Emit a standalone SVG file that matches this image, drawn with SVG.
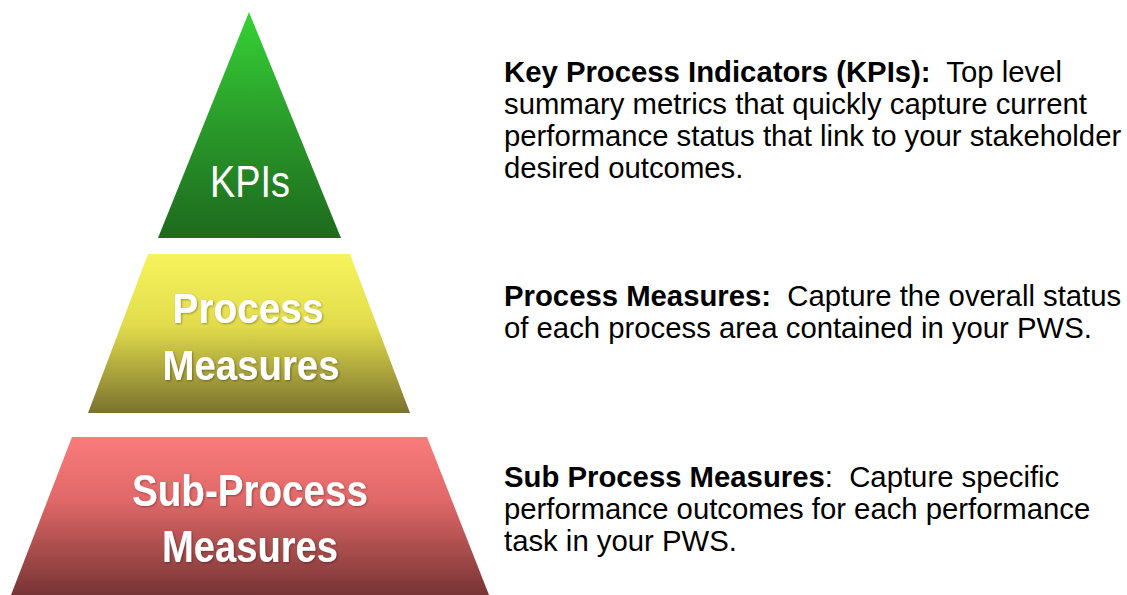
<svg xmlns="http://www.w3.org/2000/svg" width="1127" height="595" viewBox="0 0 1127 595">
<defs>
<linearGradient id="gGreen" x1="0" y1="0" x2="0" y2="1">
<stop offset="0" stop-color="#36d236"/>
<stop offset="0.5" stop-color="#2a9a2a"/>
<stop offset="1" stop-color="#1d6a1d"/>
</linearGradient>
<linearGradient id="gYellow" x1="0" y1="0" x2="0" y2="1">
<stop offset="0" stop-color="#f6f35c"/>
<stop offset="0.45" stop-color="#e2dc4c"/>
<stop offset="1" stop-color="#7a722e"/>
</linearGradient>
<linearGradient id="gRed" x1="0" y1="0" x2="0" y2="1">
<stop offset="0" stop-color="#fa7b7b"/>
<stop offset="0.4" stop-color="#e06868"/>
<stop offset="1" stop-color="#773434"/>
</linearGradient>
<filter id="sh" x="-10%" y="-10%" width="120%" height="130%">
<feGaussianBlur in="SourceAlpha" stdDeviation="1.2"/>
<feOffset dx="1" dy="1" result="b"/>
<feFlood flood-color="#000" flood-opacity="0.35"/>
<feComposite in2="b" operator="in"/>
<feMerge><feMergeNode/><feMergeNode in="SourceGraphic"/></feMerge>
</filter>
</defs>
<style>
.lbl{font-family:"Liberation Sans",Arial,sans-serif;fill:#fff;text-anchor:middle}
.b{font-weight:bold}
.desc{font-family:"Liberation Sans",Arial,sans-serif;font-size:29.3px;fill:#000;white-space:pre}
</style>
<rect width="1127" height="595" fill="#fff"/>
<g id="kpis">
<polygon points="249,12 341,238 158,238" fill="url(#gGreen)"/>
<text class="lbl" x="250" y="197" font-size="45" textLength="80" lengthAdjust="spacingAndGlyphs">KPIs</text>
</g>
<g id="process-measures">
<polygon points="148,254 350,254 410,413 88,413" fill="url(#gYellow)"/>
<g filter="url(#sh)">
<text class="lbl b" x="248" y="323" font-size="42" textLength="151" lengthAdjust="spacingAndGlyphs">Process</text>
<text class="lbl b" x="251" y="380" font-size="42" textLength="177" lengthAdjust="spacingAndGlyphs">Measures</text>
</g>
</g>
<g id="sub-process-measures">
<polygon points="72,437 427,437 489,595 11,595" fill="url(#gRed)"/>
<g filter="url(#sh)">
<text class="lbl b" x="250" y="506" font-size="45" textLength="236" lengthAdjust="spacingAndGlyphs">Sub-Process</text>
<text class="lbl b" x="250" y="562" font-size="45" textLength="176" lengthAdjust="spacingAndGlyphs">Measures</text>
</g>
</g>
<g id="kpi-desc" class="desc">
<text x="504" y="82" xml:space="preserve"><tspan font-weight="bold">Key Process Indicators (KPIs):</tspan>  Top level</text>
<text x="504" y="114">summary metrics that quickly capture current</text>
<text x="504" y="146">performance status that link to your stakeholder</text>
<text x="504" y="178">desired outcomes.</text>
</g>
<g id="process-desc" class="desc">
<text x="504" y="306" xml:space="preserve"><tspan font-weight="bold">Process Measures:</tspan>  Capture the overall status</text>
<text x="504" y="338">of each process area contained in your PWS.</text>
</g>
<g id="sub-process-desc" class="desc">
<text x="504" y="487" xml:space="preserve"><tspan font-weight="bold">Sub Process Measures</tspan>:  Capture specific</text>
<text x="504" y="519">performance outcomes for each performance</text>
<text x="504" y="551">task in your PWS.</text>
</g>
</svg>
